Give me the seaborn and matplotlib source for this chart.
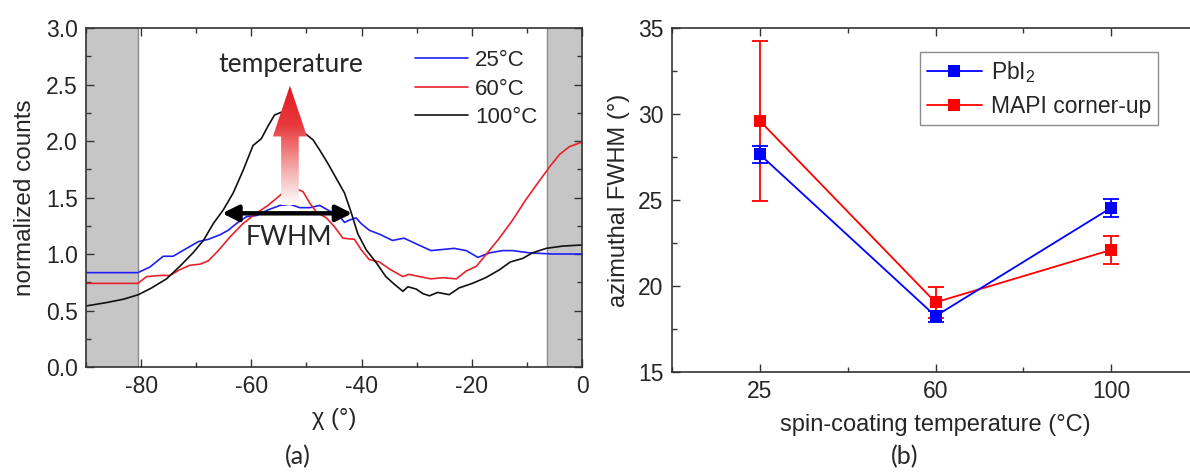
import numpy as np
import pandas as pd
import seaborn as sns
import matplotlib.pyplot as plt
from matplotlib.patches import Polygon
from matplotlib.colors import LinearSegmentedColormap
from matplotlib.ticker import MultipleLocator

# (a) azimuthal profiles
chi_25 = [-90, -80.6, -78.4, -76, -74.2, -72.1, -69.6, -67.8, -65.7, -64.2, -62.7, -60.9, -59.1, -57,
          -54.8, -53, -51.2, -49.4, -47.6, -45.8, -44.3, -43.1, -42.2, -41, -40.1, -38.6, -36.5, -34.4,
          -32.3, -30.1, -27.4, -25.3, -23.2, -21, -18.9, -16.8, -14.4, -12.6, -9.5, -5.3, 0]
counts_25 = [0.835, 0.835, 0.885, 0.98, 0.98, 1.04, 1.11, 1.13, 1.17, 1.21, 1.27, 1.33, 1.34, 1.39,
             1.43, 1.44, 1.41, 1.41, 1.43, 1.38, 1.35, 1.28, 1.30, 1.32, 1.27, 1.21, 1.17, 1.12,
             1.14, 1.09, 1.03, 1.04, 1.05, 1.03, 0.97, 1.01, 1.03, 1.03, 1.01, 1.00, 1.00]

chi_60 = [-90, -80.6, -79, -76.6, -74.8, -73, -71.2, -69.3, -67.8, -66, -63.9, -61.5, -59.1, -57, -55.5,
          -54.3, -51.9, -50.6, -49.4, -48.2, -46.4, -44.9, -43.4, -41.3, -40.1, -38.6, -36.8, -34.7,
          -32.5, -31.4, -29.5, -27.4, -25.3, -22.8, -21.0, -19.2, -17.5, -15, -12.6, -10.2, -7.7,
          -5.9, -4.1, -2.3, 0]
counts_60 = [0.74, 0.74, 0.80, 0.81, 0.81, 0.86, 0.90, 0.91, 0.94, 1.03, 1.15, 1.27, 1.36, 1.43, 1.49,
             1.54, 1.58, 1.55, 1.45, 1.37, 1.32, 1.24, 1.14, 1.13, 1.04, 0.95, 0.93, 0.86,
             0.80, 0.82, 0.80, 0.78, 0.79, 0.78, 0.85, 0.89, 0.99, 1.14, 1.30, 1.48, 1.65,
             1.77, 1.88, 1.95, 1.99]

chi_100 = [-90, -86.3, -83.2, -80.5, -78.1, -75.4, -73, -70.6, -68.7, -66.9, -65.1, -63.3, -61.5, -59.7,
           -58.2, -57, -55.8, -54.3, -52.6, -50.6, -48.8, -47.6, -46.1, -44.6, -43.1, -41.9, -40.7,
           -39.2, -37.3, -35.6, -34, -32.5, -31.6, -30.1, -28.9, -27.7, -26.2, -24.1, -22.3, -19.9,
           -17.5, -15, -13, -10.8, -9, -6.5, -3.5, 0]
counts_100 = [0.54, 0.57, 0.60, 0.64, 0.70, 0.78, 0.89, 1.01, 1.12, 1.27, 1.39, 1.54, 1.74, 1.96,
              2.02, 2.13, 2.23, 2.26, 2.20, 2.08, 2.01, 1.92, 1.80, 1.67, 1.54, 1.37, 1.18,
              1.04, 0.92, 0.80, 0.73, 0.67, 0.71, 0.69, 0.65, 0.63, 0.66, 0.64, 0.70, 0.74,
              0.79, 0.86, 0.93, 0.96, 1.01, 1.05, 1.07, 1.08]

labels_a = ['25°C', '60°C', '100°C']
colors_a = ['#1f1ff5', '#e8222a', '#111111']

# (b) azimuthal FWHM vs spin-coating temperature
temps = ['25', '60', '100']
pbi2_fwhm = [27.65, 18.25, 24.55]
pbi2_err = [0.48, 0.32, 0.52]
mapi_fwhm = [29.6, 19.05, 22.1]
mapi_err = [4.65, 0.92, 0.82]
label_pbi2 = 'PbI$_\\mathregular{2}$'
label_mapi = 'MAPI corner-up'

sns.set_style("ticks")
plt.rcParams['font.family'] = ['Liberation Sans', 'DejaVu Sans']
plt.rcParams['axes.unicode_minus'] = False
ANNOT_FONT = ['Lato', 'DejaVu Sans']
SPINE = '#333333'

df_a = pd.concat([
    pd.DataFrame({'chi': chi_25, 'counts': counts_25, 'T': labels_a[0]}),
    pd.DataFrame({'chi': chi_60, 'counts': counts_60, 'T': labels_a[1]}),
    pd.DataFrame({'chi': chi_100, 'counts': counts_100, 'T': labels_a[2]}),
], ignore_index=True)

df_b = pd.concat([
    pd.DataFrame({'pos': np.arange(len(temps)), 'fwhm': mapi_fwhm, 'series': label_mapi}),
    pd.DataFrame({'pos': np.arange(len(temps)), 'fwhm': pbi2_fwhm, 'series': label_pbi2}),
], ignore_index=True)

fig = plt.figure(figsize=(11.9, 4.73), dpi=100)
ax1 = fig.add_axes([0.0723, 0.2241, 0.4168, 0.7167])
ax2 = fig.add_axes([0.5647, 0.2135, 0.4429, 0.7273])

# ---- panel (a)
ax1.axvspan(-90, -80.6, color='#c6c6c6', lw=0, zorder=0)
ax1.axvspan(-6.3, 0, color='#c6c6c6', lw=0, zorder=0)
ax1.axvline(-80.6, color='#8a8a8a', lw=1, zorder=0.5)
ax1.axvline(-6.3, color='#8a8a8a', lw=1, zorder=0.5)

sns.lineplot(data=df_a, x='chi', y='counts', hue='T', hue_order=labels_a,
             palette=dict(zip(labels_a, colors_a)), sort=False, estimator=None,
             lw=1.2, ax=ax1, zorder=2)

# gradient arrow "temperature"
arrow_pts = [(-54.6, 1.43), (-51.4, 1.43), (-51.4, 2.04), (-49.9, 2.04),
             (-53.0, 2.49), (-56.1, 2.04), (-54.6, 2.04)]
cmap = LinearSegmentedColormap.from_list('arr', ['#ffffff', '#f4a0a0', '#e8383c', '#e01a20'])
grad = np.linspace(0, 1, 256).reshape(-1, 1)
im = ax1.imshow(grad, extent=[-57, -49, 1.43, 2.5], origin='lower', cmap=cmap,
                aspect='auto', zorder=4)
poly = Polygon(arrow_pts, closed=True, facecolor='none', edgecolor='none')
ax1.add_patch(poly)
im.set_clip_path(poly)
ax1.set_xlim(-90, 0)
ax1.set_ylim(0, 3.0)

ax1.annotate('', xy=(-65.3, 1.36), xytext=(-41.7, 1.36),
             arrowprops=dict(arrowstyle='<|-|>', color='black', lw=3.2,
                             mutation_scale=24, shrinkA=0, shrinkB=0), zorder=5)
ax1.text(-52.8, 2.68, 'temperature', ha='center', va='center', fontsize=19, family=ANNOT_FONT)
ax1.text(-53.2, 1.15, 'FWHM', ha='center', va='center', fontsize=19, family=ANNOT_FONT)

h, l = ax1.get_legend_handles_labels()
ax1.legend(h, l, loc='upper left', bbox_to_anchor=(0.663, 0.935), frameon=False,
           borderaxespad=0, borderpad=0, handlelength=2.4, handletextpad=0.3,
           labelspacing=0.34, fontsize=16)

ax1.xaxis.set_major_locator(MultipleLocator(20))
ax1.xaxis.set_minor_locator(MultipleLocator(10))
ax1.yaxis.set_major_locator(MultipleLocator(0.5))
ax1.yaxis.set_minor_locator(MultipleLocator(0.25))
ax1.yaxis.set_major_formatter(plt.FormatStrFormatter('%.1f'))
ax1.set_xlabel('χ (°)', fontsize=17, labelpad=7)
ax1.set_ylabel('normalized counts', fontsize=17.5, labelpad=7)

# ---- panel (b)
pal_b = {label_pbi2: '#0000ff', label_mapi: '#ff0000'}
ax2.errorbar(np.arange(len(temps)), mapi_fwhm, yerr=mapi_err, fmt='none', ecolor='#ff0000',
             elinewidth=1.3, capsize=6, capthick=1.3, zorder=2)
ax2.errorbar(np.arange(len(temps)), pbi2_fwhm, yerr=pbi2_err, fmt='none', ecolor='#0000ff',
             elinewidth=1.3, capsize=6, capthick=1.3, zorder=4)
sns.lineplot(data=df_b, x='pos', y='fwhm', hue='series', palette=pal_b, sort=False,
             estimator=None, marker='s', markersize=9, markeredgewidth=0, lw=1.3, ax=ax2)
for line in ax2.get_lines():
    if line.get_color() == '#0000ff':
        line.set_zorder(5)

ax2.set_xlim(-0.5, 2.5)
ax2.set_ylim(15, 35)
ax2.set_xticks(np.arange(len(temps)))
ax2.set_xticklabels(temps)
ax2.xaxis.set_minor_locator(MultipleLocator(0.5))
ax2.yaxis.set_major_locator(MultipleLocator(5))
ax2.yaxis.set_minor_locator(MultipleLocator(2.5))
ax2.set_xlabel('spin-coating temperature (°C)', fontsize=17, labelpad=8)
ax2.set_ylabel('azimuthal FWHM (°)', fontsize=17, labelpad=6)

h, l = ax2.get_legend_handles_labels()
order = [l.index(label_pbi2), l.index(label_mapi)]
leg = ax2.legend([h[i] for i in order], [l[i] for i in order], loc='upper left',
                 bbox_to_anchor=(0.47, 0.93), frameon=True, fancybox=False,
                 edgecolor='#8c8c8c', framealpha=1, borderaxespad=0, borderpad=0.3,
                 handlelength=2.4, handletextpad=0.4, labelspacing=0.45, fontsize=16.5)
leg.get_frame().set_linewidth(1.0)

for ax in (ax1, ax2):
    ax.tick_params(which='both', direction='in', top=True, right=True, color=SPINE, width=1)
    ax.tick_params(which='major', length=5.5, labelsize=16.5, pad=6)
    ax.tick_params(which='minor', length=3.5)
    for s in ax.spines.values():
        s.set_color(SPINE)
        s.set_linewidth(1.2)

fig.text(298 / 1190, 1 - 457 / 473, '(a)', ha='center', va='center', fontsize=18, family=ANNOT_FONT)
fig.text(905 / 1190, 1 - 457 / 473, '(b)', ha='center', va='center', fontsize=18, family=ANNOT_FONT)

fig.savefig('out.png', dpi=100)
